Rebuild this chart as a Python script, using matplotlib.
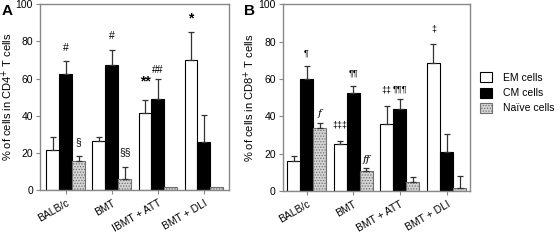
import matplotlib
matplotlib.use('Agg')
import matplotlib.pyplot as plt
import numpy as np

plt.rcParams['font.family'] = ['Liberation Sans', 'DejaVu Sans']
plt.rcParams['hatch.linewidth'] = 0.6

groups_A = ['BALB/c', 'BMT', 'IBMT + ATT', 'BMT + DLI']
groups_B = ['BALB/c', 'BMT', 'BMT + ATT', 'BMT + DLI']
series = ['EM cells', 'CM cells', 'Naïve cells']

# panel A: CD4+ T cells
em_A = [21.5, 26.3, 41.2, 70.0]
cm_A = [62.7, 67.4, 49.2, 25.8]
nv_A = [15.8, 5.9, 1.6, 1.4]
em_A_err = [7.0, 2.4, 7.0, 15.0]
cm_A_err = [7.0, 8.0, 10.6, 14.3]
nv_A_err = [2.6, 6.3, 0.0, 0.0]

# panel B: CD8+ T cells
em_B = [15.8, 25.0, 35.9, 68.8]
cm_B = [60.2, 52.4, 43.8, 20.8]
nv_B = [33.5, 10.8, 5.0, 1.6]
em_B_err = [3.0, 2.0, 9.7, 10.0]
cm_B_err = [7.0, 4.0, 5.4, 9.7]
nv_B_err = [3.0, 1.3, 2.4, 6.5]

# significance marks: (group, series index, y, text, italic)
marks_A = [(0, 1, 76.5, '#', False), (0, 2, 26.0, '§', False),
           (1, 1, 83.0, '#', False), (1, 2, 20.5, '§§', False),
           (2, 0, 58.5, '**', False), (2, 1, 64.5, '##', False),
           (3, 0, 92.5, '*', False)]
marks_B = [(0, 1, 74.0, '¶', False), (0, 2, 41.5, 'f', True),
           (1, 0, 35.5, '‡‡‡', False), (1, 1, 63.0, '¶¶', False),
           (1, 2, 17.0, 'ff', True),
           (2, 0, 54.0, '‡‡', False), (2, 1, 54.5, '¶¶¶', False),
           (3, 0, 87.0, '‡', False)]

fill = ['white', 'black', '#d4d4d4']
edge = ['black', 'black', '#707070']
hatch = [None, None, '......']
width = 0.28


def draw(ax, labels, vals, errs, marks, ylab, xlim, labx):
    x = np.arange(len(labels))
    for k in range(3):
        xs = x + (k - 1) * width
        ax.bar(xs, vals[k], width, color=fill[k], edgecolor=edge[k],
               hatch=hatch[k], linewidth=0.8, label=series[k], zorder=2)
        e = np.array(errs[k])
        m = e > 0
        ax.errorbar(xs[m], np.array(vals[k])[m], yerr=[np.zeros(m.sum()), e[m]],
                    fmt='none', ecolor='#333333', elinewidth=0.9, capsize=2,
                    capthick=0.9, zorder=3)
    for g, k, y, t, it in marks:
        if '*' in t:
            size = 10
        elif t[0] in '¶‡':
            size = 6.5
        else:
            size = 7.5
        ax.text(g + (k - 1) * width, y, t, ha='center', va='center', fontsize=size,
                fontweight='bold' if '*' in t else 'normal',
                style='italic' if it else 'normal', family='DejaVu Serif' if it else None)
    ax.set_xlim(*xlim)
    ax.set_ylim(0, 100)
    ax.set_yticks([0, 20, 40, 60, 80, 100])
    ax.set_xticks(x)
    ax.set_xticklabels(labels, rotation=30, ha='right', rotation_mode='anchor', fontsize=7.5)
    ax.tick_params(axis='y', labelsize=7.5, length=3, color='#888888', pad=2)
    ax.tick_params(axis='x', length=3, color='#888888', pad=3)
    ax.set_ylabel(ylab, fontsize=8)
    ax.yaxis.set_label_coords(labx, 0.5)
    for s in ax.spines.values():
        s.set_color('#888888')
        s.set_linewidth(1.0)


fig = plt.figure(figsize=(5.6, 2.41), dpi=100)
axA = fig.add_axes([0.0714, 0.212, 0.338, 0.77])
axB = fig.add_axes([0.505, 0.208, 0.334, 0.774])

draw(axA, groups_A, [em_A, cm_A, nv_A], [em_A_err, cm_A_err, nv_A_err], marks_A,
     r'% of cells in CD4$^{+}$ T cells', (-0.56, 3.55), -0.13)
draw(axB, groups_B, [em_B, cm_B, nv_B], [em_B_err, cm_B_err, nv_B_err], marks_B,
     r'% of cells in CD8$^{+}$ T cells', (-0.51, 3.5), -0.14)

fig.text(0.003, 0.985, 'A', fontsize=11, fontweight='bold', va='top')
fig.text(0.436, 0.985, 'B', fontsize=11, fontweight='bold', va='top')

handles, labs = axB.get_legend_handles_labels()
fig.legend(handles, labs, loc='center left', bbox_to_anchor=(0.857, 0.615),
           frameon=False, fontsize=7.5, handlelength=1.2, handleheight=1.1,
           handletextpad=1.0, labelspacing=0.45, borderpad=0, borderaxespad=0)

fig.savefig('out.png', dpi=100)
